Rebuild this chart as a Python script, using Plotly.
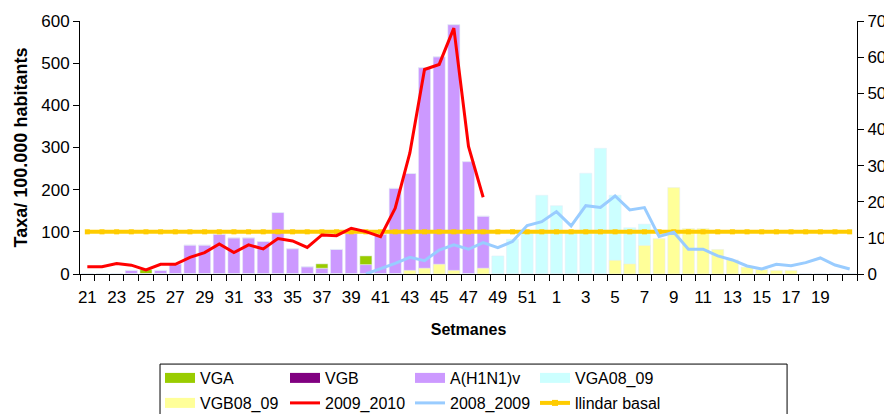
import plotly.graph_objects as go

# ---------------- data ----------------
weeks = list(range(21, 53)) + list(range(1, 22))
x_idx = list(range(len(weeks)))

# virus detections (right axis, 0-70)
vga = [0, 0, 0, 0, 1.2, 0, 0,
       0, 0, 0, 0, 0, 0, 0, 0, 0,
       1.2, 0, 0, 2.4, 0, 0, 0, 0, 0, 0, 0, 0,
       0, 0, 0, 0] + [0] * 21
vgb = [0] * 53
h1n1 = [0, 0, 0, 1, 0, 1, 2.8,
        8, 8, 11, 10, 10, 9, 17, 7, 2,
        1.6, 6.8, 11.2, 2.6, 11, 23.7, 27.8, 57.1, 60.1, 69, 31.1, 16,
        0, 0, 0, 0] + [0] * 21
vga0809 = [0] * 28 + [5, 9.6, 12, 21.8,
                      18.9, 12, 27.9, 34.8, 21.8, 12.8, 13.8, 0] + [0] * 13
vgb0809 = [0] * 22 + [1.0, 1.6, 2.7, 1.0, 0, 1.6,
                      0, 0, 0, 0,
                      0, 0, 0, 0,
                      3.8, 2.8, 7.9, 9.8, 23.9, 12.6, 12.6, 6.8, 3.9, 1.9, 1.2, 1.0, 1.0, 0, 0, 0, 0]

# rates per 100.000 (left axis, 0-600)
rate_2009_2010 = [17, 17, 25, 21, 9.5, 23, 23, 39.6, 50.7, 71.3, 50.7, 69, 59.4, 84,
                  78.5, 63, 92.7, 91, 108.6, 100.6, 88.7, 156, 287, 485, 497, 583,
                  302.7, 182] + [None] * 25
rate_2008_2009 = [None] * 19 + [0, 12, 25, 39.6, 31.7, 57, 69, 58.7, 74.4, 62.6, 76.9, 115, 124,
                                148, 114, 162, 157.6, 185, 152, 157.6, 89, 99, 58.7, 58.7, 42.8,
                                33.3, 19, 11.9, 23, 19.8, 27, 38, 21.4, 11.9]
LLINDAR_BASAL = 100
llindar = [LLINDAR_BASAL] * len(weeks)

tick_idx = x_idx[::2][:26]
tick_text = [str(weeks[i]) for i in tick_idx]

C_VGA, C_VGB, C_H1N1 = "#99CC00", "#800080", "#CC99FF"
C_VGA89, C_VGB89 = "#CCFFFF", "#FFFF99"
C_RED, C_BLUE, C_LL = "#FF0000", "#99CCFF", "#FFCC00"

FONT = "Arial, Liberation Sans, sans-serif"

# the page body adds an 8px offset; the figure is sized to fill the rest of the window
W, H = 884, 406

fig = go.Figure()

# bars (main axis 'y', shown on the right, 0-70)
fig.add_trace(go.Bar(x=x_idx, y=h1n1, marker_color=C_H1N1, showlegend=False, name="A(H1N1)v"))
fig.add_trace(go.Bar(x=x_idx, y=vga, base=h1n1, marker_color=C_VGA, showlegend=False, name="VGA"))
fig.add_trace(go.Bar(x=x_idx, y=vgb, marker_color=C_VGB, showlegend=False, name="VGB"))
fig.add_trace(go.Bar(x=x_idx, y=vga0809, marker_color=C_VGA89, showlegend=False, name="VGA08_09"))
fig.add_trace(go.Bar(x=x_idx, y=vgb0809, marker_color=C_VGB89, showlegend=False, name="VGB08_09"))

# lines (left axis 'y2', 0-600, drawn on top)
fig.add_trace(go.Scatter(x=x_idx, y=llindar, yaxis="y2", mode="lines+markers",
                         line=dict(color=C_LL, width=4), marker=dict(symbol="square", size=5, color=C_LL),
                         showlegend=False, name="llindar basal"))
fig.add_trace(go.Scatter(x=x_idx, y=rate_2009_2010, yaxis="y2", mode="lines",
                         line=dict(color=C_RED, width=3), showlegend=False, name="2009_2010"))
fig.add_trace(go.Scatter(x=x_idx, y=rate_2008_2009, yaxis="y2", mode="lines",
                         line=dict(color=C_BLUE, width=3), showlegend=False, name="2008_2009"))

# legend entries
def leg(name, color, width, legend, symbol=None):
    mode = "lines+markers" if symbol else "lines"
    fig.add_trace(go.Scatter(x=[None], y=[None], yaxis="y2", mode=mode, name=name,
                             line=dict(color=color, width=width),
                             marker=dict(symbol=symbol or "circle", size=6, color=color),
                             legend=legend, showlegend=True))

leg("VGA", C_VGA, 10, "legend")
leg("VGB", C_VGB, 10, "legend")
leg("A(H1N1)v", C_H1N1, 10, "legend")
leg("VGA08_09", C_VGA89, 10, "legend")
leg("VGB08_09", C_VGB89, 10, "legend2")
leg("2009_2010", C_RED, 3, "legend2")
leg("2008_2009", C_BLUE, 3, "legend2")
leg("llindar basal", C_LL, 4, "legend2", symbol="square")

leg_common = dict(orientation="h", xanchor="left", yanchor="middle", entrywidth=80,
                  entrywidthmode="pixels", font=dict(family=FONT, size=16, color="black"),
                  bgcolor="rgba(0,0,0,0)", borderwidth=0, itemwidth=30, tracegroupgap=0,
                  xref="container", yref="container")

fig.update_layout(
    width=W, height=H,
    margin=dict(l=72, r=35, t=13, b=140, autoexpand=False),
    paper_bgcolor="white", plot_bgcolor="white",
    font=dict(family=FONT, size=17, color="black"),
    barmode="overlay", bargap=0.18,
    xaxis=dict(range=[-0.5, 52.5], tickmode="array", tickvals=tick_idx, ticktext=tick_text,
               ticks="", showgrid=False, zeroline=False, showline=True, linecolor="black",
               linewidth=1, ticklabelstandoff=8,
               minor=dict(tickmode="array", tickvals=[i - 0.5 for i in range(len(weeks) + 1)],
                          ticks="outside", ticklen=6, tickcolor="black", showgrid=False),
               title=dict(text="<b>Setmanes</b>", font=dict(size=16), standoff=17)),
    yaxis=dict(range=[0, 70], dtick=10, side="right", ticks="outside", ticklen=6,
               tickcolor="black", showline=True, linecolor="black", showgrid=False, zeroline=False),
    yaxis2=dict(range=[0, 600], dtick=100, overlaying="y", side="left", ticks="outside", ticklen=6,
                tickcolor="black", showline=True, linecolor="black", showgrid=False, zeroline=False,
                title=dict(text="<b>Taxa/ 100.000 habitants</b>", font=dict(size=18), standoff=8)),
    legend=dict(x=152 / W, y=1 - 370 / H, **leg_common),
    legend2=dict(x=152 / W, y=1 - 395 / H, **leg_common),
    shapes=[dict(type="rect", xref="paper", yref="paper", x0=0.103, x1=0.91, y0=-0.58, y1=-0.356,
                 line=dict(color="black", width=1), fillcolor="rgba(0,0,0,0)")],
)

fig.write_html("out.html")
